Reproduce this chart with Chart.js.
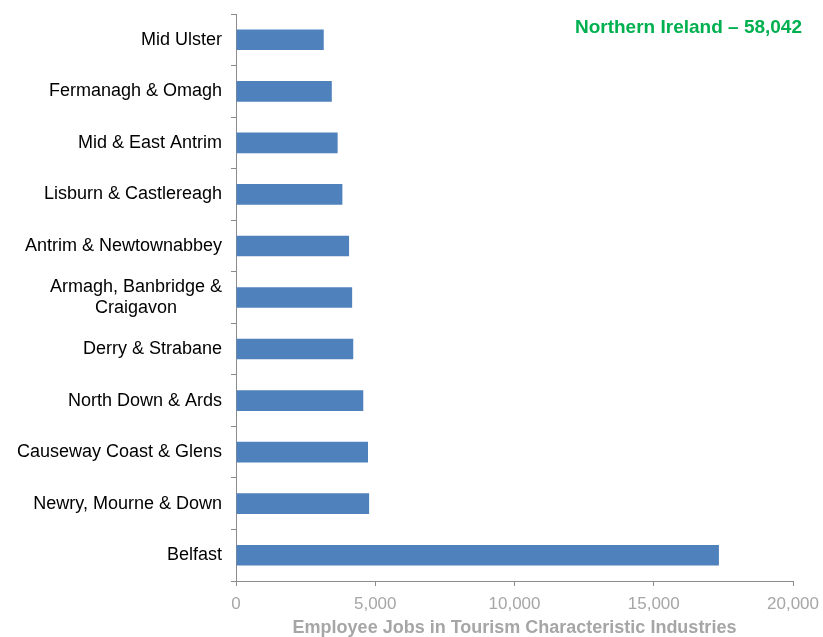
<!DOCTYPE html>
<html>
<head>
<meta charset="utf-8">
<script src="https://cdn.jsdelivr.net/npm/chart.js@4"></script>
<style>
  html,body{margin:0;padding:0;background:#fff;}
  #wrap{width:823px;height:637px;position:relative;}
</style>
</head>
<body>
<div id="wrap"><canvas id="c"></canvas></div>
<script>
// ─── Data ───
const regions = [
  'Mid Ulster',
  'Fermanagh & Omagh',
  'Mid & East Antrim',
  'Lisburn & Castlereagh',
  'Antrim & Newtownabbey',
  ['Armagh, Banbridge &', 'Craigavon'],
  'Derry & Strabane',
  'North Down & Ards',
  'Causeway Coast & Glens',
  'Newry, Mourne & Down',
  'Belfast'
];
const jobs = [3150, 3440, 3650, 3820, 4060, 4170, 4210, 4570, 4740, 4780, 17340];
const xTicks = [0, 5000, 10000, 15000, 20000];
const totalLabel = 'Northern Ireland – 58,042';

// ─── Style ───
const FONT = "'Liberation Sans', Arial, sans-serif";
const AXIS = '#8c8c8c';

// green total in the top right corner
const totalText = {
  id: 'totalText',
  afterDraw(chart){
    const ctx = chart.ctx;
    ctx.save();
    ctx.font = 'bold 19px ' + FONT;
    ctx.fillStyle = '#00B050';
    ctx.textAlign = 'right';
    ctx.textBaseline = 'middle';
    ctx.fillText(totalLabel, 802, 28);
    ctx.restore();
  }
};

// multi-line labels are centred line by line in the original
const centreLines = lines => {
  const ctx = document.createElement('canvas').getContext('2d');
  ctx.font = '18px ' + FONT;
  const w = lines.map(l => ctx.measureText(l).width);
  const max = Math.max(...w);
  const sp = ctx.measureText(' ').width;
  return lines.map((l, i) => l + ' '.repeat(Math.round((max - w[i]) / 2 / sp)));
};

new Chart(document.getElementById('c').getContext('2d'), {
  type: 'bar',
  data: {
    labels: regions.map(r => Array.isArray(r) ? centreLines(r) : r),
    datasets: [{
      data: jobs,
      backgroundColor: '#4F81BD',
      borderWidth: 0,
      barPercentage: 0.4,
      categoryPercentage: 1
    }]
  },
  plugins: [totalText],
  options: {
    indexAxis: 'y',
    responsive: true,
    maintainAspectRatio: false,
    animation: false,
    layout: { padding: { top: 14, right: 30, left: 0, bottom: 0 } },
    plugins: { legend: { display: false }, tooltip: { enabled: false } },
    scales: {
      y: {
        grid: { drawOnChartArea: false, drawTicks: true, tickLength: 5, color: AXIS },
        border: { display: true, color: AXIS, width: 1 },
        ticks: { color: '#000', font: { family: FONT, size: 18, lineHeight: 1.15 }, padding: 9 },
        afterFit(scale){ scale.width = 236; scale.paddingTop = 0; scale.paddingBottom = 0; }
      },
      x: {
        min: 0, max: 20000,
        afterBuildTicks(scale){ scale.ticks = xTicks.map(v => ({ value: v })); },
        grid: { drawOnChartArea: false, drawTicks: true, tickLength: 5, color: AXIS },
        border: { display: true, color: AXIS, width: 1 },
        ticks: {
          color: '#a6a6a6', font: { family: FONT, size: 17 }, padding: 8,
          maxRotation: 0,
          callback: v => v.toLocaleString('en-US')
        },
        title: {
          display: true,
          text: 'Employee Jobs in Tourism Characteristic Industries',
          color: '#a6a6a6',
          font: { family: FONT, size: 18, weight: 'bold' },
          padding: { top: 2, bottom: -2 }
        },
        afterFit(scale){ scale.height = 56; scale.paddingLeft = 0; scale.paddingRight = 0; }
      }
    }
  }
});
</script>
</body>
</html>
